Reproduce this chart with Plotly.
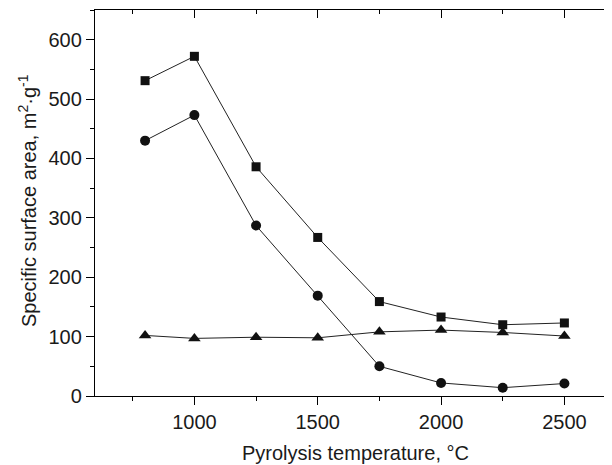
import plotly.graph_objects as go

temperature = [800, 1000, 1250, 1500, 1750, 2000, 2250, 2500]
series_square = [531, 572, 386, 267, 159, 133, 120, 123]
series_circle = [430, 473, 287, 169, 50, 22, 14, 21]
series_triangle = [102, 97, 99, 98, 108, 111, 107, 101]

x_title = "Pyrolysis temperature, °C"
y_title = "Specific surface area, m<sup>2</sup>·g<sup>-1</sup>"

FONT = "Liberation Sans, Arial, sans-serif"
INK = "#111111"
TXT = "#1a1a1a"

fig = go.Figure()
for ys, sym, size in [(series_square, "square", 9), (series_circle, "circle", 10), (series_triangle, "triangle-up", 11)]:
    fig.add_trace(go.Scatter(
        x=temperature, y=ys, mode="lines+markers",
        line=dict(color="#222222", width=1),
        marker=dict(symbol=sym, size=size, color=INK, line=dict(width=0)),
        showlegend=False,
    ))

# invisible trace to hold mirrored axes
fig.add_trace(go.Scatter(x=[temperature[0]], y=[series_square[0]], xaxis="x2", yaxis="y2",
                         mode="markers", marker=dict(opacity=0), showlegend=False, hoverinfo="skip"))

xr = [597, 2693]
yr = [0, 650]
common = dict(showgrid=False, zeroline=False, linecolor="black", linewidth=1.3,
              tickcolor="black", tickwidth=1.3, ticklen=8, automargin=False)

# page body has an 8px default margin, so the figure is 8px smaller than the window
fig.update_layout(
    width=604, height=457, autosize=False,
    margin=dict(l=87, r=0, t=2, b=69),
    paper_bgcolor="white", plot_bgcolor="white",
    font=dict(family=FONT, size=20, color=TXT),
    xaxis=dict(range=xr, ticks="outside", dtick=500, tick0=0, showline=True,
               minor=dict(dtick=250, ticks="outside", ticklen=4, tickcolor="black", tickwidth=1.3),
               **common),
    yaxis=dict(range=yr, ticks="outside", dtick=100, tick0=0, showline=True,
               minor=dict(dtick=50, ticks="outside", ticklen=4, tickcolor="black", tickwidth=1.3),
               **common),
    xaxis2=dict(range=xr, overlaying="x", side="top", ticks="inside", dtick=500, tick0=0,
                showticklabels=False, showline=True,
                minor=dict(dtick=250, ticks="inside", ticklen=4, tickcolor="black", tickwidth=1.3),
                **common),
    yaxis2=dict(range=yr, overlaying="y", side="right", ticks="inside", dtick=100, tick0=0,
                showticklabels=False, showline=False,
                minor=dict(dtick=50, ticks="inside", ticklen=4, tickcolor="black", tickwidth=1.3),
                **common),
    annotations=[
        dict(text=x_title, xref="paper", yref="paper", x=0.503, y=-0.148,
             xanchor="center", yanchor="middle", showarrow=False, font=dict(size=20, color=TXT)),
        dict(text=y_title, xref="paper", yref="paper", x=(27 - 95) / 517, y=0.505,
             xanchor="center", yanchor="middle", textangle=-90, showarrow=False,
             font=dict(size=20, color=TXT)),
    ],
)

fig.write_html("out.html", config={"responsive": False})
